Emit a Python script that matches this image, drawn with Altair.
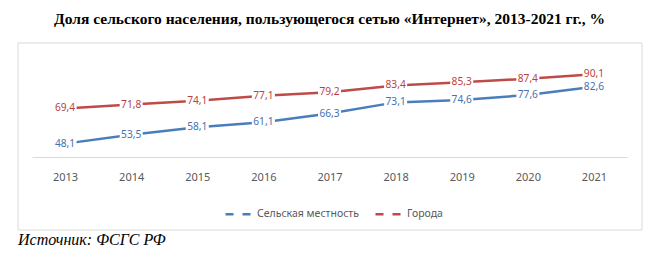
import altair as alt
import pandas as pd

years = ["2013", "2014", "2015", "2016", "2017", "2018", "2019", "2020", "2021"]
rural = [48.1, 53.5, 58.1, 61.1, 66.3, 73.1, 74.6, 77.6, 82.6]
urban = [69.4, 71.8, 74.1, 77.1, 79.2, 83.4, 85.3, 87.4, 90.1]
series_names = ["Сельская местность", "Города"]
line_colors = ["#4A7EBB", "#BE4B48"]
text_colors = ["#4472B0", "#B8423F"]
source_text = "Источник: ФСГС РФ"
title_text = "Доля сельского населения, пользующегося сетью «Интернет», 2013-2021 гг., %"

rows = []
for name, vals in zip(series_names, [rural, urban]):
    for y, v in zip(years, vals):
        rows.append({"year": y, "series": name, "value": v,
                     "label": f"{v:.1f}".replace(".", ",")})
df = pd.DataFrame(rows)
one = pd.DataFrame({"t": [source_text]})

FONT = "Noto Sans"

x = alt.X("year:O", title=None,
          scale=alt.Scale(padding=0.5),
          axis=alt.Axis(labelAngle=0, ticks=False, tickSize=0, labelPadding=14,
                        domainColor="#d9d9d9", domainWidth=1,
                        labelColor="#595959", labelFont=FONT, labelFontSize=11,
                        grid=False))
y = alt.Y("value:Q", title=None, scale=alt.Scale(domain=[40, 100], nice=False, zero=False),
          axis=None)

color = alt.Color("series:N", sort=series_names,
                  scale=alt.Scale(domain=series_names, range=line_colors),
                  legend=alt.Legend(title=None, orient="none", direction="horizontal",
                                    legendX=192, legendY=141,
                                    symbolType="stroke", symbolSize=729,
                                    symbolStrokeWidth=2.5, symbolDash=[8, 9],
                                    labelFont=FONT, labelFontSize=10.5, labelColor="#595959",
                                    labelOffset=3, columnPadding=11))

lines = alt.Chart(df).mark_line(strokeWidth=2.5).encode(x=x, y=y, color=color)

boxes = alt.Chart(df).mark_point(shape="M-1,-0.5H1V0.5H-1Z", filled=True, fill="white",
                                 opacity=1, size=529, strokeWidth=0).encode(x=x, y=y)

texts = alt.Chart(df).mark_text(font=FONT, fontSize=10.2).encode(
    x=x, y=y, text="label:N",
    color=alt.Color("series:N", scale=alt.Scale(domain=series_names, range=text_colors),
                    legend=None))

frame = alt.Chart(one).mark_rect(fill=None, stroke="#d9d9d9", strokeWidth=1).encode(
    x=alt.value(-14), x2=alt.value(610), y=alt.value(-15), y2=alt.value(172))

source = alt.Chart(one).mark_text(font="Liberation Serif",
                                  fontStyle="italic", fontSize=16, align="left",
                                  baseline="middle", color="#000000").encode(
    x=alt.value(-14), y=alt.value(182), text="t:N")

chart = alt.layer(frame, lines, boxes, texts, source).resolve_scale(color="independent").properties(
    width=595, height=99,
    background="white",
    autosize=alt.AutoSizeParams(type="none"),
    padding={"left": 32, "top": 58, "right": 28, "bottom": 98},
    title=alt.TitleParams(title_text,
                          font="Liberation Serif", fontSize=15.5, fontWeight="bold",
                          color="#000000", anchor="middle", offset=15),
).configure_view(strokeWidth=0, stroke="transparent")

chart.save("out.html", embed_options={"renderer": "svg", "actions": False})
